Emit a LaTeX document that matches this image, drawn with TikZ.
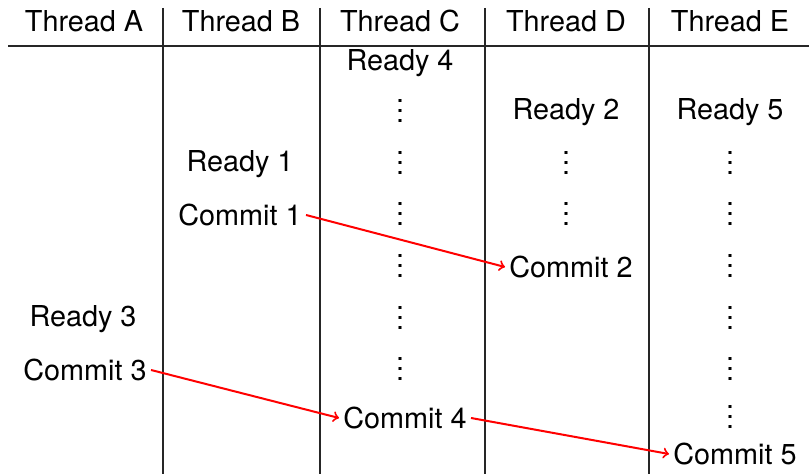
\documentclass[tikz,border=0pt]{standalone}
\usepackage{fontspec}
\setmainfont{TeX Gyre Heros}
\usepackage{tikz}
\usetikzlibrary{arrows}
\newcommand\waitdots{\vbox{\baselineskip5.2pt\lineskiplimit0pt\hbox{.}\hbox{.}\hbox{.}}}

\begin{document}
\begin{tikzpicture}[x=0.5pt,y=-0.5pt,>=to,
        cell/.style={inner sep=2pt, font=\fontsize{14.4}{17}\selectfont},
        rule/.style={line width=0.6pt, black!85},
        link/.style={->, red, line width=1pt}]
    \useasboundingbox (0,0) rectangle (809,474);
    % table head and rules
    \foreach \t/\x in {A/84,B/241,C/400,D/566,E/730}
        \node[cell] (head\t) at (\x,21) {Thread \t};
    \draw[rule] (8,46) -- (809,46);
    \foreach \x in {163,320,485,649}
        \draw[rule] (\x,8) -- (\x,474);
    % events
    \node[cell] (ready4) at (400,63) {Ready 4};
    \node[cell] (ready2) at (566,112) {Ready 2};
    \node[cell] (ready5) at (730,112) {Ready 5};
    \node[cell] (ready1) at (240,164) {Ready 1};
    \node[cell] (commit1) at (240,215) {Commit 1};
    \node[cell] (commit2) at (571,267) {Commit 2};
    \node[cell] (ready3) at (83,319) {Ready 3};
    \node[cell] (commit3) at (85,370) {Commit 3};
    \node[cell] (commit4) at (405,418) {Commit 4};
    \node[cell] (commit5) at (735,454) {Commit 5};
    % waiting
    \foreach \y in {111,163,214,266,318,369}
        \node[cell] (waitC\y) at (400,\y) {\waitdots};
    \foreach \y in {163,214}
        \node[cell] (waitD\y) at (566,\y) {\waitdots};
    \foreach \y in {163,214,266,318,369,417}
        \node[cell] (waitE\y) at (730,\y) {\waitdots};
    % hand-offs
    \draw[link] (commit1.east) -- (commit2.west);
    \draw[link] (commit3.east) -- (commit4.west);
    \draw[link] (commit4.east) -- (commit5.west);
\end{tikzpicture}
\end{document}
